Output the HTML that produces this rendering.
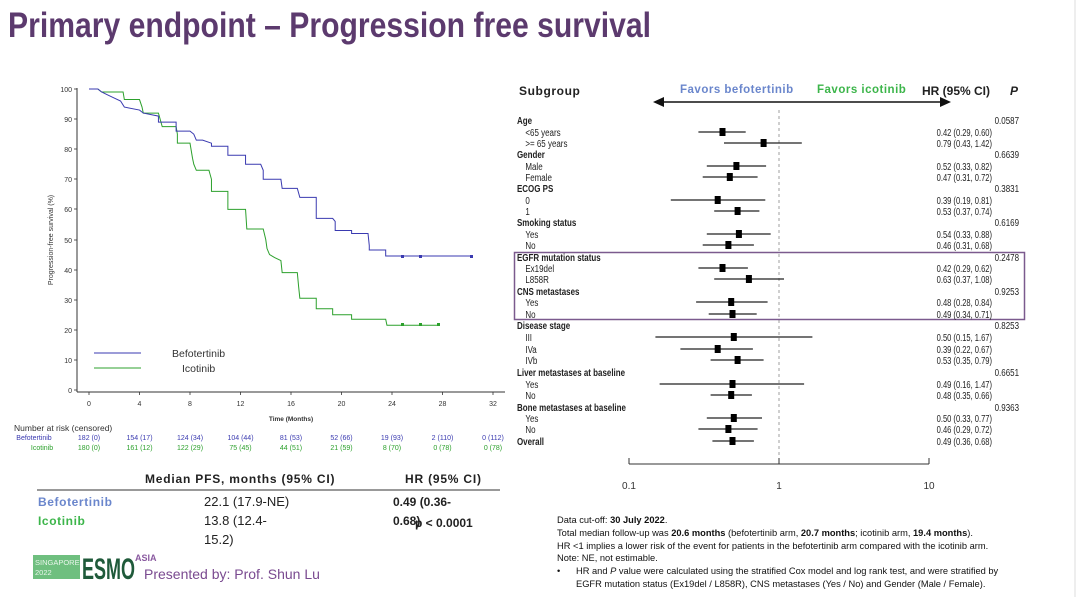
<!DOCTYPE html>
<html><head><meta charset="utf-8"><style>
html,body{margin:0;padding:0;background:#fff;}
svg{display:block;font-family:"Liberation Sans",sans-serif;}
.n{font-family:"Liberation Sans Narrow","Liberation Sans",sans-serif;}
</style></head><body>
<svg width="1080" height="597" viewBox="0 0 1080 597" xmlns="http://www.w3.org/2000/svg">
<rect width="1080" height="597" fill="#fff"/>
<line x1="1075" y1="0" x2="1075" y2="597" stroke="#ddd" stroke-width="1"/>
<text x="8" y="37" class="n" font-size="35" font-weight="bold" fill="#5c3a6e" textLength="643" lengthAdjust="spacingAndGlyphs">Primary endpoint – Progression free survival</text>

<!-- KM plot -->
<g stroke="#333" stroke-width="1" fill="none">
<line x1="77" y1="88" x2="77" y2="392"/>
<line x1="77" y1="392" x2="505" y2="392"/>
</g>
<g font-size="7" fill="#333" text-anchor="end">
<text x="72" y="92">100</text><text x="72" y="122">90</text><text x="72" y="152">80</text><text x="72" y="182">70</text><text x="72" y="212">60</text><text x="72" y="243">50</text><text x="72" y="273">40</text><text x="72" y="303">30</text><text x="72" y="333">20</text><text x="72" y="363">10</text><text x="72" y="393">0</text>
</g>
<g stroke="#333" stroke-width="0.8">
<line x1="74" y1="89" x2="77" y2="89"/><line x1="74" y1="119" x2="77" y2="119"/><line x1="74" y1="149" x2="77" y2="149"/><line x1="74" y1="179" x2="77" y2="179"/><line x1="74" y1="209" x2="77" y2="209"/><line x1="74" y1="240" x2="77" y2="240"/><line x1="74" y1="270" x2="77" y2="270"/><line x1="74" y1="300" x2="77" y2="300"/><line x1="74" y1="330" x2="77" y2="330"/><line x1="74" y1="360" x2="77" y2="360"/><line x1="74" y1="390" x2="77" y2="390"/>
<line x1="89" y1="392" x2="89" y2="395"/><line x1="139.5" y1="392" x2="139.5" y2="395"/><line x1="190" y1="392" x2="190" y2="395"/><line x1="240.5" y1="392" x2="240.5" y2="395"/><line x1="291" y1="392" x2="291" y2="395"/><line x1="341.5" y1="392" x2="341.5" y2="395"/><line x1="392" y1="392" x2="392" y2="395"/><line x1="442.5" y1="392" x2="442.5" y2="395"/><line x1="493" y1="392" x2="493" y2="395"/>
</g>
<g font-size="7" fill="#333" text-anchor="middle">
<text x="89" y="406">0</text><text x="139.5" y="406">4</text><text x="190" y="406">8</text><text x="240.5" y="406">12</text><text x="291" y="406">16</text><text x="341.5" y="406">20</text><text x="392" y="406">24</text><text x="442.5" y="406">28</text><text x="493" y="406">32</text>
<text x="291" y="421" font-weight="bold" font-size="6.5">Time (Months)</text>
<text transform="translate(53,240) rotate(-90)" font-size="7">Progression-free survival (%)</text>
</g>
<g transform="translate(89,390) scale(12.625,-3.01)" fill="none">
<polyline vector-effect="non-scaling-stroke" stroke="#2ca02c" stroke-width="1" points="0,100 0.7,100 1,99 2.7,99 2.8,96.5 4,96.5 4.2,94 4.3,92 5.5,92 5.7,89 5.8,87.5 6.9,87.5 7,85 7,82 8,82 8.2,77 8.3,75 8.5,73 9.5,73 9.7,70 9.7,66 11,66 11,60 12.4,60 12.5,53.5 13.8,53.5 14,50 14.1,47 14.3,45 14.7,44 15.2,43 15.3,39 16.5,39 16.6,34.5 16.7,30.5 18,30.5 18,27 19.3,27 19.3,25 20.8,25 20.8,23.5 23.5,23.5 23.6,21.5 27.7,21.5"/>
<polyline vector-effect="non-scaling-stroke" stroke="#3a3ab0" stroke-width="1" points="0,100 0.7,100 1,99 1.5,98 2,97 2.5,96 2.8,94 4,93 4.3,92 5.5,91 5.5,89 6.9,89 6.9,86 8,86 8.3,85 8.5,83 9,83 9.7,82 9.7,81 11,81 11,78 12.4,78 12.4,75 13.6,75 13.8,73 13.8,70 15.2,70 15.3,67 16.5,67 16.7,64 18,64 18,57 19.3,57 19.5,56 19.5,53 20.8,53 20.8,52 22.1,52 22.2,48 22.2,46.5 23.5,46.5 23.5,44.5 30.3,44.5"/>
</g>
<g fill="#3a3ab0"><rect x="401" y="255" width="3" height="3"/><rect x="419" y="255" width="3" height="3"/><rect x="470" y="255" width="3" height="3"/></g>
<g fill="#2ca02c"><rect x="401" y="323" width="3" height="3"/><rect x="419" y="323" width="3" height="3"/><rect x="437" y="323" width="3" height="3"/></g>
<line x1="94" y1="353" x2="141" y2="353" stroke="#3a3ab0" stroke-width="1"/>
<line x1="94" y1="368" x2="141" y2="368" stroke="#2ca02c" stroke-width="1"/>
<text x="172" y="357" font-size="10.5" fill="#333">Befotertinib</text>
<text x="182" y="372" font-size="10.5" fill="#333">Icotinib</text>
<text x="14" y="431" font-size="8.5" fill="#333">Number at risk (censored)</text>
<g font-size="7" text-anchor="middle" fill="#3a3ab0">
<text x="34" y="440">Befotertinib</text><text x="89" y="440">182 (0)</text><text x="139.5" y="440">154 (17)</text><text x="190" y="440">124 (34)</text><text x="240.5" y="440">104 (44)</text><text x="291" y="440">81 (53)</text><text x="341.5" y="440">52 (66)</text><text x="392" y="440">19 (93)</text><text x="442.5" y="440">2 (110)</text><text x="493" y="440">0 (112)</text>
</g>
<g font-size="7" text-anchor="middle" fill="#2ca02c">
<text x="42" y="450">Icotinib</text><text x="89" y="450">180 (0)</text><text x="139.5" y="450">161 (12)</text><text x="190" y="450">122 (29)</text><text x="240.5" y="450">75 (45)</text><text x="291" y="450">44 (51)</text><text x="341.5" y="450">21 (59)</text><text x="392" y="450">8 (70)</text><text x="442.5" y="450">0 (78)</text><text x="493" y="450">0 (78)</text>
</g>

<!-- bottom table -->
<text x="145" y="483" font-size="12" font-weight="bold" fill="#222" letter-spacing="0.8">Median PFS, months (95% CI)</text>
<text x="405" y="483" font-size="12" font-weight="bold" fill="#222" letter-spacing="0.8">HR (95% CI)</text>
<line x1="37" y1="490" x2="500" y2="490" stroke="#333" stroke-width="1"/>
<text x="38" y="506" font-size="12" font-weight="bold" fill="#6a86cc" letter-spacing="0.6">Befotertinib</text>
<text x="38" y="525" font-size="12" font-weight="bold" fill="#3cb54a" letter-spacing="0.6">Icotinib</text>
<text x="204" y="506" font-size="13" fill="#222">22.1 (17.9-NE)</text>
<text x="204" y="525" font-size="13" fill="#222">13.8 (12.4-</text>
<text x="204" y="544" font-size="13" fill="#222">15.2)</text>
<text x="393" y="506" font-size="12" font-weight="bold" fill="#222">0.49 (0.36-</text>
<text x="393" y="525" font-size="12" font-weight="bold" fill="#222">0.68)</text>
<text x="415" y="527" font-size="12" font-weight="bold" fill="#222">p &lt; 0.0001</text>

<!-- logo -->
<rect x="33" y="555" width="47" height="24" fill="#6fbf7f"/>
<text x="35" y="565" class="n" font-size="7.5" fill="#e8f5ea">SINGAPORE</text>
<text x="35" y="575" class="n" font-size="7.5" fill="#e8f5ea">2022</text>
<text x="82" y="579" class="n" font-size="30" font-weight="bold" fill="#1f5a3a" textLength="53" lengthAdjust="spacingAndGlyphs">ESMO</text>
<text x="135" y="561" class="n" font-size="9" font-weight="bold" fill="#8a5aa0">ASIA</text>
<text x="144" y="579" font-size="14" fill="#7a4a90">Presented by: Prof. Shun Lu</text>

<!-- forest plot -->
<text x="519" y="95" font-size="12" font-weight="bold" fill="#222" letter-spacing="0.6">Subgroup</text>
<text x="680" y="93" font-size="11.5" font-weight="bold" fill="#6a86cc" letter-spacing="0.5">Favors befotertinib</text>
<text x="817" y="93" font-size="11.5" font-weight="bold" fill="#3cb54a" letter-spacing="0.5">Favors icotinib</text>
<text x="922" y="95" font-size="12" font-weight="bold" fill="#222">HR (95% CI)</text>
<text x="1010" y="95" font-size="12" font-weight="bold" font-style="italic" fill="#222">P</text>
<line x1="660" y1="102" x2="944" y2="102" stroke="#111" stroke-width="1.5"/>
<polygon points="653,102 664,97 664,107" fill="#111"/>
<polygon points="951,102 940,97 940,107" fill="#111"/>
<line x1="779" y1="110" x2="779" y2="462" stroke="#888" stroke-width="0.8" stroke-dasharray="3,3"/>
<line x1="629" y1="464" x2="929" y2="464" stroke="#333" stroke-width="1"/>
<line x1="629" y1="458" x2="629" y2="464" stroke="#333"/><line x1="779" y1="458" x2="779" y2="464" stroke="#333"/><line x1="929" y1="458" x2="929" y2="464" stroke="#333"/>
<g font-size="10" fill="#333" text-anchor="middle"><text x="629" y="489">0.1</text><text x="779" y="489">1</text><text x="929" y="489">10</text></g>
<rect x="514.5" y="252.5" width="510" height="67" fill="none" stroke="#7b5a8e" stroke-width="1.5"/>

<g font-size="10.5" fill="#222">
<g transform="translate(517,0) scale(0.76,1) translate(-517,0)">
<g font-weight="bold">
<text x="517" y="124">Age</text><text x="517" y="158">Gender</text><text x="517" y="192">ECOG PS</text><text x="517" y="226">Smoking status</text><text x="517" y="261">EGFR mutation status</text><text x="517" y="295">CNS metastases</text><text x="517" y="329">Disease stage</text><text x="517" y="376">Liver metastases at baseline</text><text x="517" y="411">Bone metastases at baseline</text><text x="517" y="445">Overall</text>
</g>
<text x="528" y="136">&lt;65 years</text><text x="528" y="147">&gt;= 65 years</text>
<text x="528" y="170">Male</text><text x="528" y="181">Female</text>
<text x="528" y="204">0</text><text x="528" y="215">1</text>
<text x="528" y="238">Yes</text><text x="528" y="249">No</text>
<text x="528" y="272">Ex19del</text><text x="528" y="283">L858R</text>
<text x="528" y="306">Yes</text><text x="528" y="318">No</text>
<text x="528" y="341">III</text><text x="528" y="353">IVa</text><text x="528" y="364">IVb</text>
<text x="528" y="388">Yes</text><text x="528" y="399">No</text>
<text x="528" y="422">Yes</text><text x="528" y="433">No</text>
</g>
<g text-anchor="end" transform="translate(992,0) scale(0.72,1) translate(-992,0)">
<text x="992" y="136">0.42 (0.29, 0.60)</text><text x="992" y="147">0.79 (0.43, 1.42)</text>
<text x="992" y="170">0.52 (0.33, 0.82)</text><text x="992" y="181">0.47 (0.31, 0.72)</text>
<text x="992" y="204">0.39 (0.19, 0.81)</text><text x="992" y="215">0.53 (0.37, 0.74)</text>
<text x="992" y="238">0.54 (0.33, 0.88)</text><text x="992" y="249">0.46 (0.31, 0.68)</text>
<text x="992" y="272">0.42 (0.29, 0.62)</text><text x="992" y="283">0.63 (0.37, 1.08)</text>
<text x="992" y="306">0.48 (0.28, 0.84)</text><text x="992" y="318">0.49 (0.34, 0.71)</text>
<text x="992" y="341">0.50 (0.15, 1.67)</text><text x="992" y="353">0.39 (0.22, 0.67)</text><text x="992" y="364">0.53 (0.35, 0.79)</text>
<text x="992" y="388">0.49 (0.16, 1.47)</text><text x="992" y="399">0.48 (0.35, 0.66)</text>
<text x="992" y="422">0.50 (0.33, 0.77)</text><text x="992" y="433">0.46 (0.29, 0.72)</text>
<text x="992" y="445">0.49 (0.36, 0.68)</text>
</g>
<g text-anchor="end" transform="translate(1019,0) scale(0.76,1) translate(-1019,0)">
<text x="1019" y="124">0.0587</text><text x="1019" y="158">0.6639</text><text x="1019" y="192">0.3831</text><text x="1019" y="226">0.6169</text><text x="1019" y="261">0.2478</text><text x="1019" y="295">0.9253</text><text x="1019" y="329">0.8253</text><text x="1019" y="376">0.6651</text><text x="1019" y="411">0.9363</text>
</g>
</g>
<g stroke="#222" stroke-width="1.3">
<line x1="698.4" y1="132" x2="745.7" y2="132"/><line x1="724" y1="143" x2="801.8" y2="143"/>
<line x1="706.8" y1="166" x2="766.1" y2="166"/><line x1="702.7" y1="177" x2="757.6" y2="177"/>
<line x1="670.8" y1="200" x2="765.3" y2="200"/><line x1="714.2" y1="211" x2="759.4" y2="211"/>
<line x1="706.8" y1="234" x2="770.7" y2="234"/><line x1="702.7" y1="245" x2="753.9" y2="245"/>
<line x1="698.4" y1="268" x2="747.9" y2="268"/><line x1="714.2" y1="279" x2="784" y2="279"/>
<line x1="696.1" y1="302" x2="767.6" y2="302"/><line x1="708.7" y1="314" x2="756.7" y2="314"/>
<line x1="655.4" y1="337" x2="812.4" y2="337"/><line x1="680.4" y1="349" x2="752.9" y2="349"/><line x1="710.6" y1="360" x2="763.6" y2="360"/>
<line x1="659.6" y1="384" x2="804.1" y2="384"/><line x1="710.6" y1="395" x2="751.9" y2="395"/>
<line x1="706.8" y1="418" x2="762" y2="418"/><line x1="698.4" y1="429" x2="757.6" y2="429"/>
<line x1="712.4" y1="441" x2="753.9" y2="441"/>
</g>
<g fill="#000">
<rect x="719.5" y="128" width="6" height="8"/><rect x="760.6" y="139" width="6" height="8"/>
<rect x="733.4" y="162" width="6" height="8"/><rect x="726.8" y="173" width="6" height="8"/>
<rect x="714.7" y="196" width="6" height="8"/><rect x="734.6" y="207" width="6" height="8"/>
<rect x="735.9" y="230" width="6" height="8"/><rect x="725.4" y="241" width="6" height="8"/>
<rect x="719.5" y="264" width="6" height="8"/><rect x="745.9" y="275" width="6" height="8"/>
<rect x="728.2" y="298" width="6" height="8"/><rect x="729.5" y="310" width="6" height="8"/>
<rect x="730.8" y="333" width="6" height="8"/><rect x="714.7" y="345" width="6" height="8"/><rect x="734.6" y="356" width="6" height="8"/>
<rect x="729.5" y="380" width="6" height="8"/><rect x="728.2" y="391" width="6" height="8"/>
<rect x="730.8" y="414" width="6" height="8"/><rect x="725.4" y="425" width="6" height="8"/>
<rect x="729.5" y="437" width="6" height="8"/>
</g>

<!-- notes -->
<g font-size="9.3" fill="#111">
<text x="557" y="523">Data cut-off: <tspan font-weight="bold">30 July 2022</tspan>.</text>
<text x="557" y="536">Total median follow-up was <tspan font-weight="bold">20.6 months</tspan> (befotertinib arm, <tspan font-weight="bold">20.7 months</tspan>; icotinib arm, <tspan font-weight="bold">19.4 months</tspan>).</text>
<text x="557" y="549">HR &lt;1 implies a lower risk of the event for patients in the befotertinib arm compared with the icotinib arm.</text>
<text x="557" y="561">Note: NE, not estimable.</text>
<text x="557" y="574">•</text>
<text x="576" y="574">HR and <tspan font-style="italic">P</tspan> value were calculated using the stratified Cox model and log rank test, and were stratified by</text>
<text x="576" y="587">EGFR mutation status (Ex19del / L858R), CNS metastases (Yes / No) and Gender (Male / Female).</text>
</g>
</svg>
</body></html>
